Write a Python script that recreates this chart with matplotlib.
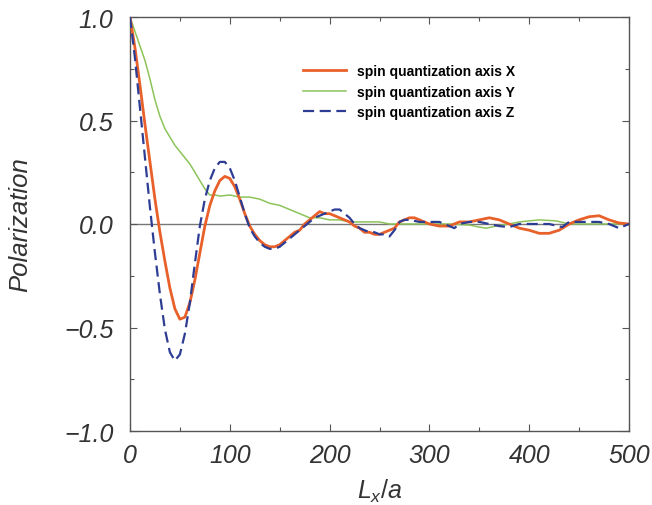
import matplotlib

matplotlib.use("Agg")
import matplotlib.pyplot as plt
from matplotlib.ticker import MultipleLocator

plt.rcParams["font.family"] = ["Liberation Sans", "DejaVu Sans"]
plt.rcParams["mathtext.fontset"] = "custom"
plt.rcParams["mathtext.it"] = "Liberation Sans:italic"
plt.rcParams["mathtext.rm"] = "Liberation Sans"

# spin quantization axis X (orange)
lx_x = [0, 5, 10, 15, 20, 25, 30, 35, 40, 45, 50, 55, 60, 65, 70, 75, 80, 85, 90, 95,
        100, 105, 110, 115, 120, 125, 130, 135, 140, 145, 150, 155, 160, 165, 170, 175,
        180, 185, 190, 195, 200, 205, 210, 215, 220, 225, 230, 235, 240, 245, 250, 255,
        260, 265, 270, 275, 280, 285, 290, 295, 300, 310, 320, 330, 340, 350, 360, 370,
        380, 390, 400, 410, 420, 430, 440, 450, 460, 470, 480, 490, 500]
pol_x = [1.00, 0.85, 0.67, 0.48, 0.30, 0.12, -0.04, -0.18, -0.31, -0.41, -0.46, -0.45,
         -0.38, -0.27, -0.14, -0.01, 0.09, 0.16, 0.21, 0.23, 0.22, 0.18, 0.12, 0.05,
         -0.01, -0.05, -0.08, -0.10, -0.11, -0.11, -0.10, -0.08, -0.06, -0.04, -0.03,
         0.00, 0.02, 0.04, 0.06, 0.05, 0.05, 0.04, 0.03, 0.02, 0.01, -0.01, -0.02, -0.04,
         -0.04, -0.05, -0.05, -0.04, -0.03, -0.02, 0.01, 0.02, 0.03, 0.03, 0.02, 0.01,
         0.00, -0.01, -0.01, 0.01, 0.01, 0.02, 0.03, 0.02, 0.00, -0.02, -0.03, -0.045,
         -0.045, -0.03, 0.00, 0.02, 0.035, 0.04, 0.02, 0.005, 0.00]

# spin quantization axis Y (green)
lx_y = [0, 5, 10, 15, 20, 25, 30, 35, 40, 45, 50, 55, 60, 65, 70, 75, 80, 85, 90, 100,
        110, 120, 130, 140, 150, 160, 170, 180, 190, 200, 210, 220, 230, 240, 250, 260,
        270, 280, 300, 320, 340, 350, 357, 367, 380, 390, 400, 410, 427, 440, 460, 480,
        500]
pol_y = [1.00, 0.93, 0.86, 0.79, 0.70, 0.60, 0.52, 0.46, 0.42, 0.38, 0.35, 0.32, 0.29,
         0.25, 0.21, 0.17, 0.14, 0.14, 0.135, 0.14, 0.13, 0.13, 0.12, 0.10, 0.09, 0.07,
         0.05, 0.03, 0.03, 0.02, 0.02, 0.01, 0.01, 0.01, 0.01, 0.00, 0.00, 0.00, 0.00,
         0.00, -0.005, -0.015, -0.02, -0.01, 0.00, 0.01, 0.015, 0.02, 0.015, 0.00, 0.00,
         0.00, 0.00]

# spin quantization axis Z (blue, dashed)
lx_z = [0, 5, 10, 15, 20, 25, 30, 35, 40, 45, 50, 55, 60, 65, 70, 75, 80, 85, 90, 95,
        100, 105, 110, 115, 120, 125, 130, 135, 140, 145, 150, 155, 160, 165, 170, 175,
        180, 185, 190, 195, 200, 205, 210, 215, 220, 225, 230, 235, 240, 245, 250, 255,
        260, 265, 270, 275, 280, 290, 300, 310, 320, 325, 330, 340, 350, 360, 370, 380,
        390, 400, 410, 420, 433, 440, 450, 460, 470, 480, 490, 500]
pol_z = [1.00, 0.80, 0.56, 0.32, 0.08, -0.14, -0.34, -0.51, -0.62, -0.66, -0.63, -0.53,
         -0.38, -0.19, -0.01, 0.12, 0.21, 0.27, 0.30, 0.30, 0.27, 0.21, 0.13, 0.05,
         -0.02, -0.06, -0.09, -0.11, -0.12, -0.12, -0.11, -0.09, -0.07, -0.05, -0.03,
         -0.01, 0.01, 0.03, 0.04, 0.05, 0.06, 0.07, 0.07, 0.05, 0.03, 0.00, -0.02, -0.03,
         -0.04, -0.04, -0.05, -0.05, -0.06, -0.03, 0.01, 0.02, 0.02, 0.01, 0.01, 0.01,
         -0.01, -0.02, 0.00, 0.01, 0.01, 0.00, -0.01, -0.015, 0.00, 0.00, 0.00, 0.00,
         -0.015, 0.01, 0.01, 0.01, 0.01, 0.00, -0.02, 0.00]

labels = ["spin quantization axis X", "spin quantization axis Y", "spin quantization axis Z"]
yticks = [-1.0, -0.5, 0.0, 0.5, 1.0]
ytick_labels = ["\u22121.0", "\u22120.5", "0.0", "0.5", "1.0"]

fig = plt.figure(figsize=(6.52, 5.06), dpi=100)
ax = fig.add_axes([130 / 652, 74 / 506, 499 / 652, 414 / 506])

ax.axhline(0, color="#777777", lw=1.0, zorder=1)
ax.plot(lx_x, pol_x, color="#e8602a", lw=2.0, label=labels[0], zorder=3)
ax.plot(lx_y, pol_y, color="#8cc45a", lw=1.1, label=labels[1], zorder=2)
ax.plot(lx_z, pol_z, color="#2e3d94", lw=1.6, ls=(0, (5, 2.5)), label=labels[2], zorder=4)

ax.set_xlim(0, 500)
ax.set_ylim(-1.0, 1.0)
ax.xaxis.set_major_locator(MultipleLocator(100))
ax.xaxis.set_minor_locator(MultipleLocator(50))
ax.yaxis.set_minor_locator(MultipleLocator(0.25))
ax.set_yticks(yticks)
ax.set_yticklabels(ytick_labels)

ax.tick_params(which="both", direction="in", top=True, right=True, colors="#555555",
               labelcolor="#333333", labelsize=18)
ax.tick_params(which="major", length=5, width=0.8)
ax.tick_params(which="minor", length=3, width=0.8)
ax.tick_params(axis="x", pad=9)
ax.tick_params(axis="y", pad=12)
for lab in ax.get_xticklabels() + ax.get_yticklabels():
    lab.set_fontstyle("italic")
for sp in ax.spines.values():
    sp.set_color("#555555")
    sp.set_linewidth(1.0)

ax.set_xlabel(r"$L_x/a$", fontsize=18, color="#333333")
ax.set_ylabel("Polarization", fontsize=18.5, style="italic", color="#333333")
ax.xaxis.set_label_coords(0.5, -0.11)
ax.yaxis.set_label_coords(-0.195, 0.5)

ax.legend(loc="upper left", bbox_to_anchor=(0.322, 0.916), frameon=False,
          prop={"weight": "bold", "size": 10}, handlelength=3.1, handletextpad=0.8,
          labelspacing=0.45)

fig.savefig("out.png", dpi=100)
